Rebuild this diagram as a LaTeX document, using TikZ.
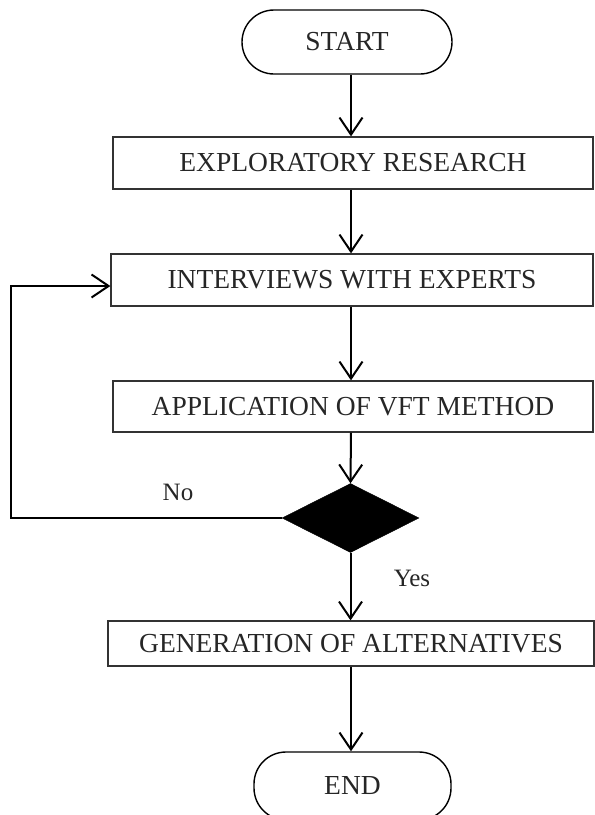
\documentclass[tikz,border=0pt]{standalone}
\usepackage{fontspec}
\setmainfont{Liberation Serif}
\usetikzlibrary{arrows.meta,shapes.geometric,calc}

\begin{document}
\begin{tikzpicture}[x=1pt,y=-1pt,
  every node/.style={font=\fontsize{27.5}{31}\selectfont, text=black!85},
  procbox/.style={draw=black!80, line width=1.3pt, rectangle, inner sep=0pt},
  terminal/.style={draw=black, line width=1.4pt, rectangle, rounded corners=32pt,
    minimum height=64pt, inner sep=0pt},
  decision/.style={diamond, fill=black, draw=black, inner sep=0pt,
    minimum width=137pt, minimum height=69pt},
  flow/.style={draw=black, line width=2pt,
    -{Straight Barb[length=17pt,width=23pt,line width=2pt]}},
  lbl/.style={inner sep=0pt, font=\fontsize{25}{28}\selectfont}]

  \useasboundingbox (0,0) rectangle (595,815);

  % main column of the flow
  \coordinate (axis) at (351,0);

  \node[terminal, minimum width=210pt] (start) at (347,42) {START};
  \node[procbox, minimum width=480pt, minimum height=52pt] (explore) at (353,163) {EXPLORATORY RESEARCH};
  \node[procbox, minimum width=482pt, minimum height=52pt] (interview) at (352,280) {INTERVIEWS WITH EXPERTS};
  \node[procbox, minimum width=480pt, minimum height=51pt] (vft) at (353,406.5) {APPLICATION OF VFT METHOD};
  \node[decision] (check) at (350.5,518) {};
  \node[procbox, minimum width=486pt, minimum height=45pt] (alts) at (351,643.5) {GENERATION OF ALTERNATIVES};
  \node[terminal, minimum width=197pt, minimum height=68pt] (finish) at (352.5,786) {END};

  \coordinate (loopleft) at (11,0);

  \draw[flow] (start.south -| axis) -- (explore.north -| axis);
  \draw[flow] (explore.south -| axis) -- (interview.north -| axis);
  \draw[flow] (interview.south -| axis) -- (vft.north -| axis);
  \draw[flow] (vft.south -| axis) -- (check.north);
  \draw[flow] (check.south) -- (alts.north -| check.south);
  \draw[flow] (alts.south -| axis) -- (finish.north -| axis);

  % "No" branch back to the interviews
  \draw[flow] (check.west) -- (check.west -| loopleft) |- ($(interview.west)+(0,6)$);

  \node[lbl] (no) at (178,492) {No};
  \node[lbl] (yes) at (412,578) {Yes};
\end{tikzpicture}
\end{document}
